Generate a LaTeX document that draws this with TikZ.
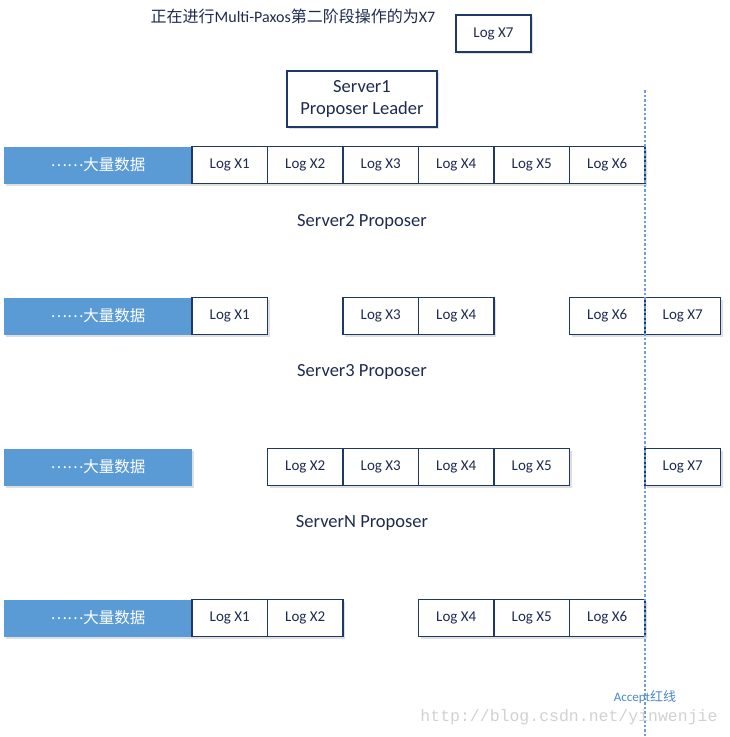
\documentclass[tikz,border=0pt]{standalone}
\usepackage{fontspec}
\setmainfont{Carlito}
\newfontfamily\cjk{Noto Sans CJK SC}
\newfontfamily\wmfont{Liberation Mono}
\usetikzlibrary{positioning, shadows}
\definecolor{logblue}{HTML}{1F3868}
\definecolor{barblue}{HTML}{5B9BD5}
\definecolor{inkblue}{HTML}{1F2A4F}
\definecolor{acceptblue}{HTML}{4A86C8}

\begin{document}
\begin{tikzpicture}[x=1pt, y=-1pt,
    every node/.style = {inner sep=0pt, outer sep=0pt},
    logbox/.style = {draw=logblue, line width=1.6pt, fill=white,
        minimum width=75.5pt, minimum height=37pt, font=\fontsize{15}{17}\selectfont,
        text=inkblue, drop shadow={opacity=0.25, shadow xshift=2pt, shadow yshift=-2pt}},
    databar/.style = {fill=barblue, minimum width=188pt, minimum height=37pt,
        text=white, font=\cjk\fontsize{15.5}{17}\selectfont,
        drop shadow={opacity=0.25, shadow xshift=2pt, shadow yshift=-2pt}},
    servername/.style = {text=inkblue, font=\fontsize{18.5}{22}\selectfont, align=center}]
    \useasboundingbox (0,0) rectangle (730,737);

    % leader and the log being proposed
    \node (title) at (293,16) [text=inkblue, font=\fontsize{16}{18}\selectfont]
        {{\cjk 正在进行}Multi-Paxos{\cjk 第二阶段操作的为}X7};
    \node[logbox] (x7) at (493.5,33.5) {Log X7};
    \node[servername, draw=logblue, line width=1.6pt, fill=white,
        minimum width=150pt, minimum height=56pt,
        drop shadow={opacity=0.25, shadow xshift=2pt, shadow yshift=-2pt}]
        (s1) at (362,99) {Server1\\Proposer Leader};

    % rows of logs, one per server
    \foreach \row/\y/\logs in {1/165/{1,2,3,4,5,6}, 2/316/{1,3,4,6,7},
                               3/467/{2,3,4,5,7}, 4/618/{1,2,4,5,6}} {
        \node[databar] (bar\row) at (98,\y) {\raisebox{0.3em}{……}大量数据};
        \foreach \i in \logs
            \node[logbox] (log\row-\i) at (192+75.5*\i-37.75,\y) {Log X\i};
    }

    \node[servername] (s2) at (362,222) {Server2 Proposer};
    \node[servername] (s3) at (362,372) {Server3 Proposer};
    \node[servername] (sn) at (362,523) {ServerN Proposer};

    % accept line
    \coordinate (acctop) at (645,90);
    \coordinate (accbot) at (645,737);
    \draw[acceptblue!80, line width=1.4pt, dash pattern=on 2.5pt off 2pt] (acctop) -- (accbot);
    \node (acc) at (645,697) [text=acceptblue, font=\fontsize{13}{14}\selectfont]
        {Accept{\cjk 红线}};

    \node (wm) at (569,717) [text=black!18, font=\wmfont\fontsize{16.5}{18}\selectfont]
        {http://blog.csdn.net/yinwenjie};
\end{tikzpicture}
\end{document}
